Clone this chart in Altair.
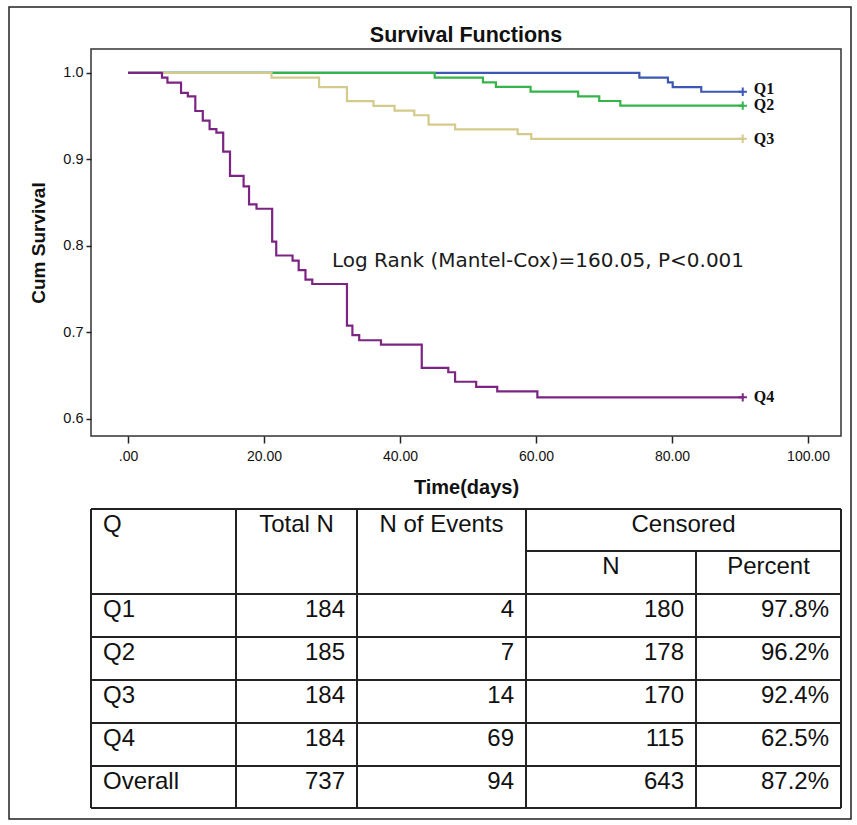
import altair as alt
import pandas as pd

# ---------------- data ----------------
groups = ["Q1", "Q2", "Q3", "Q4"]
colors = ["#3d57b4", "#35b44a", "#d3ca8c", "#7c2483"]

q1_time = [0, 75.2, 79.4, 80.1, 84.3, 90.4]
q1_surv = [1.0, 0.9946, 0.9891, 0.9837, 0.9783, 0.9783]

q2_time = [0, 45.1, 52.2, 54.1, 59.2, 66.2, 69.3, 72.4, 90.4]
q2_surv = [1.0, 0.9946, 0.9892, 0.9838, 0.9784, 0.9730, 0.9676, 0.9622, 0.9622]

q3_time = [0, 21.1, 28.1, 32.2, 36.1, 39.2, 42.1, 44.2, 48.1, 57.3, 59.3, 90.4]
q3_surv = [1.0, 0.9946, 0.9837, 0.9674, 0.9620, 0.9565, 0.9511, 0.9402, 0.9348,
           0.9293, 0.9239, 0.9239]

q4_time = [0, 5.0, 5.8, 7.8, 8.8, 9.9, 11.0, 12.0, 13.0, 14.0, 15.0, 17.0, 17.8,
           18.9, 21.2, 21.8, 24.2, 25.1, 26.1, 27.1, 32.2, 33.0, 34.0, 37.2, 43.2,
           47.1, 48.1, 51.2, 54.3, 60.2, 90.4]
q4_surv = [1.0, 0.9946, 0.9888, 0.977, 0.973, 0.956, 0.945, 0.935, 0.931, 0.909,
           0.881, 0.869, 0.848, 0.843, 0.805, 0.789, 0.783, 0.772, 0.761, 0.756,
           0.708, 0.697, 0.691, 0.686, 0.659, 0.654, 0.643, 0.637, 0.632, 0.625,
           0.625]

censor_time = [90.4, 90.4, 90.4, 90.4]
censor_surv = [0.9783, 0.9622, 0.9239, 0.625]
label_surv = [0.9815, 0.9630, 0.9239, 0.625]

annotation = "Log Rank (Mantel-Cox)=160.05, P<0.001"
annot_time = [30.0]
annot_surv = [0.7827]

x_ticks = [0, 20, 40, 60, 80, 100]
y_ticks = [0.6, 0.7, 0.8, 0.9, 1.0]

table_groups = ["Q1", "Q2", "Q3", "Q4", "Overall"]
total_n = [184, 185, 184, 184, 737]
n_events = [4, 7, 14, 69, 94]
censored_n = [180, 178, 170, 115, 643]
censored_pct = ["97.8%", "96.2%", "92.4%", "62.5%", "87.2%"]

# ---------------- layout constants ----------------
col_edges = [0, 145, 266, 435, 605, 750]
row_edges = [0, 42, 85, 128, 171, 214, 257, 299]
SANS = "Liberation Sans"
INK = "#111111"

# ---------------- survival plot ----------------
curve_rows = []
for g, ts, ss in zip(groups, [q1_time, q2_time, q3_time, q4_time],
                     [q1_surv, q2_surv, q3_surv, q4_surv]):
    for t, s in zip(ts, ss):
        curve_rows.append({"group": g, "time": t, "surv": s})
curve_df = pd.DataFrame(curve_rows)

end_df = pd.DataFrame({"group": groups, "time": censor_time,
                       "surv": censor_surv, "lab": label_surv})

x_scale = alt.Scale(domain=[-5.44, 104.85], nice=False, zero=False)
y_scale = alt.Scale(domain=[0.5803, 1.0277], nice=False, zero=False)
c_scale = alt.Scale(domain=groups, range=colors)

x_axis = alt.Axis(values=x_ticks,
                  labelExpr="datum.value == 0 ? '.00' : format(datum.value, '.2f')",
                  grid=False, domain=False, tickSize=7, tickWidth=1.5,
                  tickColor="#222", labelFont=SANS, labelFontSize=14,
                  labelColor=INK, labelPadding=6, titleFont=SANS,
                  titleFontSize=20, titleFontWeight="bold", titleColor=INK,
                  titlePadding=14)
y_axis = alt.Axis(values=y_ticks, format=".1f", grid=False, domain=False,
                  tickSize=5, tickWidth=1.5, tickColor="#222", labelFont=SANS,
                  labelFontSize=14.5, labelColor=INK, labelPadding=3,
                  titleFont=SANS, titleFontSize=19, titleFontWeight="bold",
                  titleColor=INK, titlePadding=14)

X = alt.X("time:Q", scale=x_scale, axis=x_axis, title="Time(days)")
Y = alt.Y("surv:Q", scale=y_scale, axis=y_axis, title="Cum Survival")

lines = alt.Chart(curve_df).mark_line(interpolate="step-after", strokeWidth=2.2).encode(
    x=X, y=Y, color=alt.Color("group:N", scale=c_scale, legend=None),
    detail="group:N"
)

crosses = alt.Chart(end_df).mark_point(
    shape="M-1,0L1,0M0,-1L0,1", size=70, strokeWidth=2, filled=False, opacity=1
).encode(x=X, y=Y, color=alt.Color("group:N", scale=c_scale, legend=None))

labels = alt.Chart(end_df).mark_text(
    align="left", baseline="middle", dx=11, font="Liberation Serif",
    fontWeight="bold", fontSize=16, color=INK
).encode(x=X, y=alt.Y("lab:Q", scale=y_scale, axis=y_axis, title="Cum Survival"),
         text="group:N")

annot = alt.Chart(pd.DataFrame({"time": annot_time, "surv": annot_surv,
                                "t": [annotation]})).mark_text(
    align="left", baseline="middle", font="DejaVu Sans", fontSize=20, color="#1a1a1a"
).encode(x=X, y=Y, text="t:N")

plot = alt.layer(lines, crosses, labels, annot).properties(
    width=750, height=387,
    title=alt.TitleParams("Survival Functions", font=SANS, fontSize=21.5,
                          fontWeight="bold", color=INK, anchor="middle", offset=3),
    view=alt.ViewBackground(stroke="#333", strokeWidth=1.5),
)

# ---------------- table ----------------
tx = alt.Scale(domain=[col_edges[0], col_edges[-1]], nice=False, zero=False)
ty = alt.Scale(domain=[row_edges[0], row_edges[-1]], reverse=True, nice=False, zero=False)

h_rows = []
for r in row_edges:
    x1 = col_edges[3] if r == row_edges[1] else col_edges[0]
    h_rows.append({"y": r, "x1": x1, "x2": col_edges[-1]})
hdf = pd.DataFrame(h_rows)
v_rows = []
for c in col_edges:
    y1 = row_edges[1] if c == col_edges[4] else row_edges[0]
    v_rows.append({"x": c, "y1": y1, "y2": row_edges[-1]})
vdf = pd.DataFrame(v_rows)

hl = alt.Chart(hdf).mark_rule(color="#222", strokeWidth=2).encode(
    x=alt.X("x1:Q", scale=tx, axis=None), x2="x2:Q",
    y=alt.Y("y:Q", scale=ty, axis=None))
vl = alt.Chart(vdf).mark_rule(color="#222", strokeWidth=2).encode(
    x=alt.X("x:Q", scale=tx, axis=None),
    y=alt.Y("y1:Q", scale=ty, axis=None), y2="y2:Q")

PAD = 12
BASE = 22.5
left_cells, center_cells, right_cells = [], [], []
left_cells.append({"x": col_edges[0] + PAD, "y": row_edges[0] + BASE, "t": "Q"})
center_cells.append({"x": (col_edges[1] + col_edges[2]) / 2, "y": row_edges[0] + BASE, "t": "Total N"})
center_cells.append({"x": (col_edges[2] + col_edges[3]) / 2, "y": row_edges[0] + BASE, "t": "N of Events"})
center_cells.append({"x": (col_edges[3] + col_edges[5]) / 2, "y": row_edges[0] + BASE, "t": "Censored"})
center_cells.append({"x": (col_edges[3] + col_edges[4]) / 2, "y": row_edges[1] + BASE, "t": "N"})
center_cells.append({"x": (col_edges[4] + col_edges[5]) / 2, "y": row_edges[1] + BASE, "t": "Percent"})
for i, g in enumerate(table_groups):
    top = row_edges[2 + i] + BASE
    left_cells.append({"x": col_edges[0] + PAD, "y": top, "t": g})
    right_cells.append({"x": col_edges[2] - PAD, "y": top, "t": str(total_n[i])})
    right_cells.append({"x": col_edges[3] - PAD, "y": top, "t": str(n_events[i])})
    right_cells.append({"x": col_edges[4] - PAD, "y": top, "t": str(censored_n[i])})
    right_cells.append({"x": col_edges[5] - PAD, "y": top, "t": censored_pct[i]})


def text_layer(cells, align):
    return alt.Chart(pd.DataFrame(cells)).mark_text(
        align=align, baseline="alphabetic", font=SANS, fontSize=24, color=INK
    ).encode(x=alt.X("x:Q", scale=tx, axis=None),
             y=alt.Y("y:Q", scale=ty, axis=None), text="t:N")


# outer figure frame (decoration, placed around the whole figure)
frame = alt.Chart(pd.DataFrame({"k": [0]})).mark_rect(
    fill="transparent", stroke="#222", strokeWidth=1.5, clip=False
).encode(x=alt.value(-82), x2=alt.value(760), y=alt.value(-502), y2=alt.value(310))

table = alt.layer(frame, hl, vl, text_layer(left_cells, "left"),
                  text_layer(center_cells, "center"),
                  text_layer(right_cells, "right")).properties(
    width=750, height=299,
    view=alt.ViewBackground(stroke="transparent"),
)

chart = alt.vconcat(plot, table, spacing=73, bounds="flush").properties(
    padding={"left": 7, "top": 5, "right": 2, "bottom": 2},
    background="white",
)

chart.save("out.html", embed_options={"renderer": "svg", "actions": False})
